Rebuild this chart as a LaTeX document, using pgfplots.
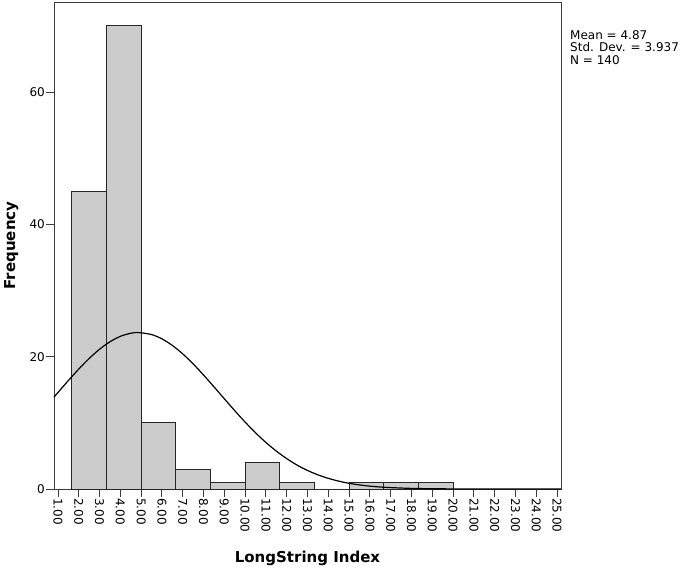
\documentclass[border=0pt]{standalone}
\usepackage{pgfplots}
\pgfplotsset{compat=1.18}
\usepackage{fontspec}
\setmainfont{DejaVu Sans}
\definecolor{barfill}{RGB}{204,204,204}
\definecolor{frame}{RGB}{60,60,60}
\begin{document}
\begin{tikzpicture}
\begin{axis}[
  name=ax,
  scale only axis,
  width=507pt, height=487pt,
  xmin=0.81, xmax=25.19,
  ymin=0, ymax=73.6,
  axis line style={frame, line width=0.9pt},
  tick pos=left,
  tick align=outside,
  major tick length=8pt,
  tick style={frame, line width=0.9pt},
  xtick={1,2,...,25},
  ytick={0,20,40,60},
  /pgf/number format/assume math mode=true,
  xticklabel style={rotate=-90, anchor=west, font=\fontsize{12}{14}\selectfont, inner sep=1pt,
    /pgf/number format/.cd, fixed, fixed zerofill, precision=2},
  yticklabel style={font=\fontsize{12}{14}\selectfont, inner sep=1pt},
  xlabel={\bfseries LongString Index},
  ylabel={\bfseries Frequency},
  xlabel style={font=\fontsize{15}{18}\selectfont, at={(axis description cs:0.5,-0.15)}, anchor=base, inner sep=0pt},
  ylabel style={font=\fontsize{15}{18}\selectfont, at={(axis description cs:-0.07,0.5)}, anchor=south, inner sep=0pt},
  clip=false,
]
\addplot[ybar interval, fill=barfill, draw=black!85, line width=0.8pt] coordinates {
  (1.6667,45) (3.3333,70) (5,10) (6.6667,3) (8.3333,1) (10,4) (11.6667,1)
  (13.3333,0) (15,1) (16.6667,1) (18.3333,1) (20,1)
};
\addplot[black, line width=1.2pt, smooth] coordinates {
  (0.81,13.89) (1.5,16.39) (2,18.12) (2.5,19.72) (3,21.12) (3.5,22.25)
  (4,23.07) (4.5,23.54) (4.87,23.64) (5.5,23.34) (6,22.69) (6.5,21.70)
  (7,20.42) (7.5,18.91) (8,17.23) (8.5,15.45) (9,13.64) (9.5,11.84)
  (10,10.11) (10.5,8.50) (11,7.03) (11.5,5.73) (12,4.59) (12.5,3.61)
  (13,2.80) (13.5,2.14) (14,1.61) (14.5,1.19) (15,0.86) (15.5,0.62)
  (16,0.43) (16.5,0.30) (17,0.21) (18,0.09) (19,0.04) (20,0.015)
  (21,0.005) (22,0.001) (23,0) (25.19,0)
};
\node[anchor=north west, align=left, inner sep=0pt, xshift=9pt, yshift=-28pt,
  font=\fontsize{12}{12.5}\selectfont] at (rel axis cs:1,1)
  {Mean = 4.87\\Std. Dev. = 3.937\\N = 140};
\end{axis}
\pgfresetboundingbox
\path ([xshift=-54pt,yshift=-80pt]ax.south west) rectangle ([xshift=124pt,yshift=2pt]ax.north east);
\end{tikzpicture}
\end{document}
